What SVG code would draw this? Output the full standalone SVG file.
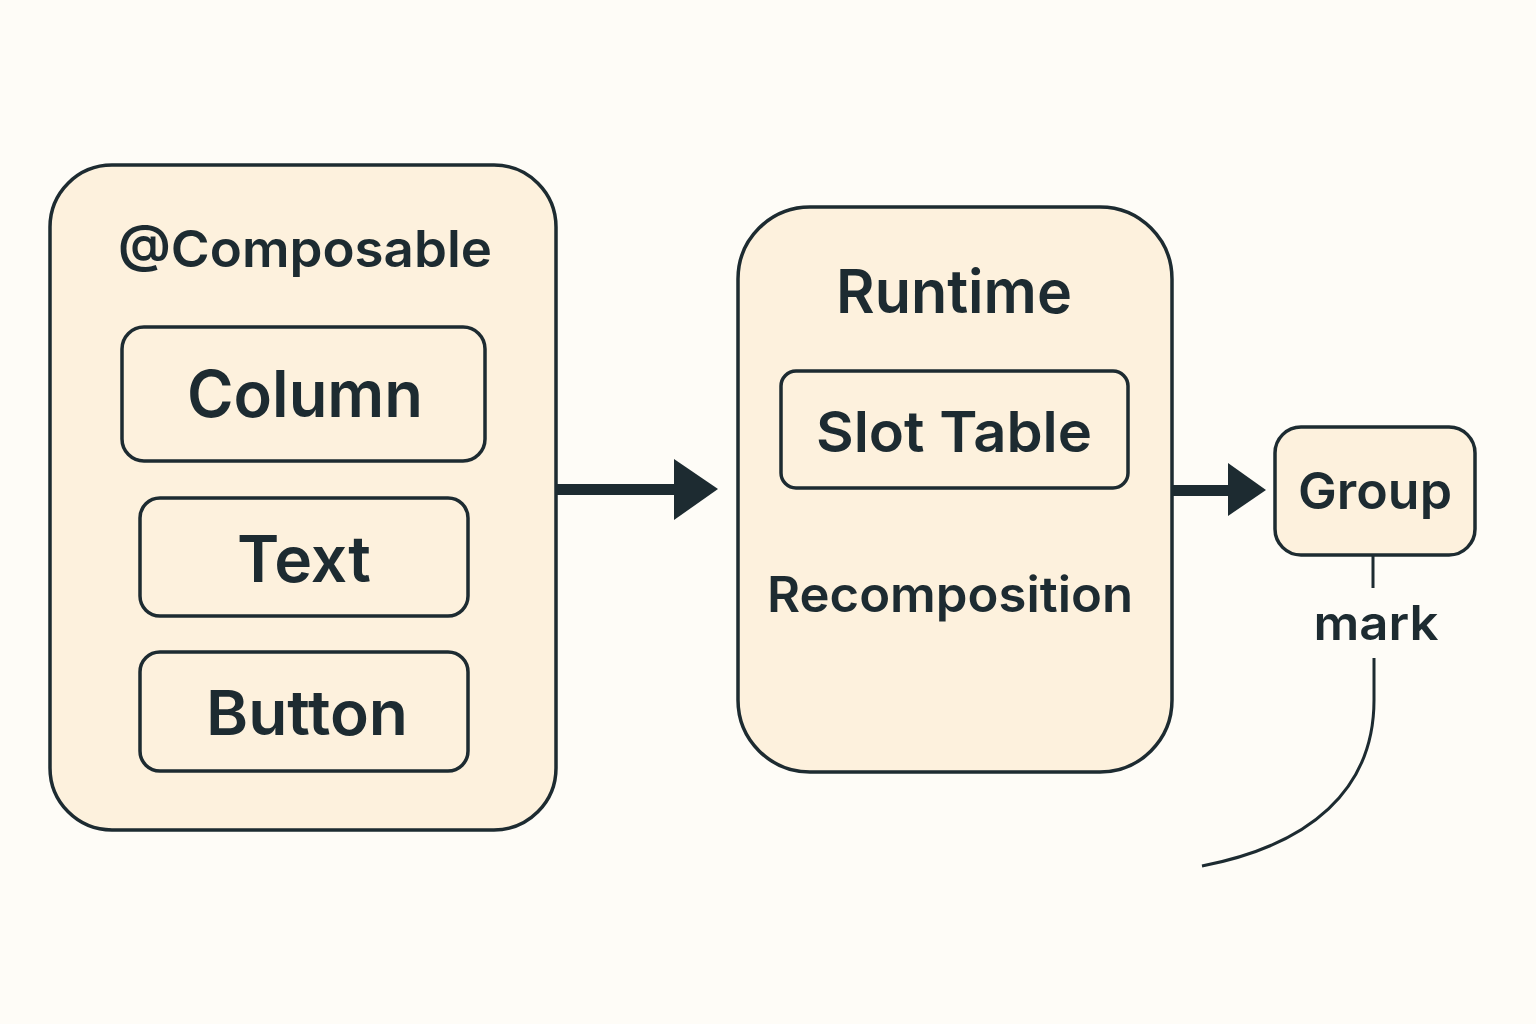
<svg xmlns="http://www.w3.org/2000/svg" width="1536" height="1024" viewBox="0 0 1536 1024">
<style>
.box{fill:#fdf1dd;stroke:#1d2b31;stroke-width:3.5}
.t{font-family:Inter,"Noto Sans",sans-serif;fill:#1d2b31;text-anchor:middle;font-weight:600}
.line{fill:none;stroke:#1d2b31;stroke-width:3}
</style>
<rect width="1536" height="1024" fill="#fefcf7"/>
<g id="composable">
<rect class="box" x="50" y="165" width="506" height="665" rx="62"/>
<text class="t" x="305" y="267" font-size="51" textLength="374" lengthAdjust="spacingAndGlyphs">@Composable</text>
</g>
<g id="column">
<rect class="box" x="122" y="327" width="363" height="134" rx="22"/>
<text class="t" x="305" y="417" font-size="64" textLength="236" lengthAdjust="spacingAndGlyphs">Column</text>
</g>
<g id="text">
<rect class="box" x="140" y="498" width="328" height="118" rx="20"/>
<text class="t" x="304" y="582" font-size="64" textLength="134" lengthAdjust="spacingAndGlyphs">Text</text>
</g>
<g id="button">
<rect class="box" x="140" y="652" width="328" height="119" rx="20"/>
<text class="t" x="307" y="735" font-size="62" textLength="202" lengthAdjust="spacingAndGlyphs">Button</text>
</g>
<g id="runtime">
<rect class="box" x="738" y="207" width="434" height="565" rx="72"/>
<text class="t" x="954" y="313" font-size="60" textLength="236" lengthAdjust="spacingAndGlyphs">Runtime</text>
<text class="t" x="950" y="612" font-size="49" textLength="366" lengthAdjust="spacingAndGlyphs">Recomposition</text>
</g>
<g id="slottable">
<rect class="box" x="781" y="371" width="347" height="117" rx="15"/>
<text class="t" x="954" y="452" font-size="57" textLength="276" lengthAdjust="spacingAndGlyphs">Slot Table</text>
</g>
<g id="group">
<rect class="box" x="1275" y="427" width="200" height="128" rx="26"/>
<text class="t" x="1375" y="509" font-size="51" textLength="154" lengthAdjust="spacingAndGlyphs">Group</text>
</g>
<g id="mark">
<text class="t" x="1376" y="640" font-size="48" textLength="125" lengthAdjust="spacingAndGlyphs">mark</text>
</g>
<g id="connectors">
<rect x="556" y="484" width="122" height="11" fill="#1d2b31"/>
<polygon points="674,459 718,489 674,520" fill="#1d2b31"/>
<rect x="1172" y="485" width="60" height="11" fill="#1d2b31"/>
<polygon points="1228,463 1266,490 1228,516" fill="#1d2b31"/>
<line class="line" x1="1373" y1="555" x2="1373" y2="588"/>
<path class="line" d="M1374,658 L1374,700 C1374,790 1310,845 1202,866"/>
</g>
</svg>
